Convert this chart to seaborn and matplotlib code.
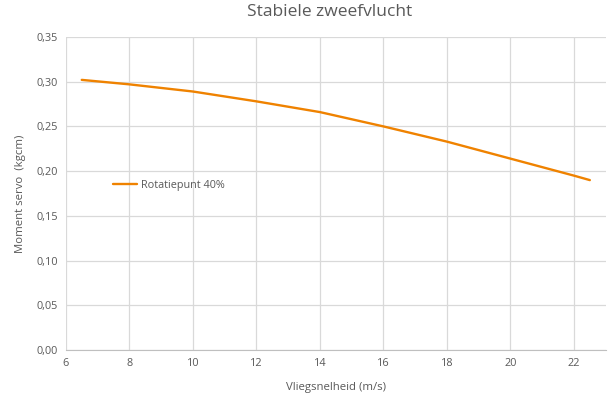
import pandas as pd
import matplotlib
matplotlib.use("Agg")
import matplotlib.pyplot as plt
import seaborn as sns

# values
snelheid = [6.5, 8, 10, 12, 14, 16, 18, 20, 22, 22.5]
moment = [0.302, 0.297, 0.289, 0.278, 0.266, 0.250, 0.233, 0.214, 0.195, 0.190]
x_ticks = [6, 8, 10, 12, 14, 16, 18, 20, 22]
y_ticks = [0.00, 0.05, 0.10, 0.15, 0.20, 0.25, 0.30, 0.35]

df = pd.DataFrame({"Vliegsnelheid": snelheid, "Moment": moment,
                   "reeks": "Rotatiepunt 40%"})

sns.set_style("white")
plt.rcParams['font.family'] = ['Open Sans', 'DejaVu Sans']
grey = "#595959"

fig = plt.figure(figsize=(6.1, 3.97), dpi=100)
ax = fig.add_axes([0.108, 0.118, 0.885, 0.789])

sns.lineplot(data=df, x="Vliegsnelheid", y="Moment", hue="reeks",
             palette=["#EF8200"], linewidth=1.7, ax=ax)

ax.set_xlim(6, 23)
ax.set_ylim(0, 0.35)
ax.set_xticks(x_ticks)
ax.set_yticks(y_ticks)
ax.set_xticklabels([str(t) for t in x_ticks])
ax.set_yticklabels([f"{t:.2f}".replace(".", ",") for t in y_ticks])
ax.tick_params(axis="both", length=0, labelsize=7.8, labelcolor=grey, pad=6)
ax.grid(True, color="#D9D9D9", linewidth=0.9)
for side in ["top", "right", "left"]:
    ax.spines[side].set_visible(False)
ax.spines["bottom"].set_color("#BFBFBF")

ax.set_xlabel("Vliegsnelheid (m/s)", fontsize=8.2, color=grey, labelpad=9)
ax.set_ylabel("Moment servo  (kgcm)", fontsize=8.2, color=grey, labelpad=7)
fig.suptitle("Stabiele zweefvlucht", fontsize=12.5, color=grey, x=0.54, y=0.99)

ax.legend(loc="center left", bbox_to_anchor=(0.07, 0.527), frameon=False,
          fontsize=7.8, labelcolor=grey, handlelength=2.2, handletextpad=0.3)

fig.savefig("out.png", dpi=100)
